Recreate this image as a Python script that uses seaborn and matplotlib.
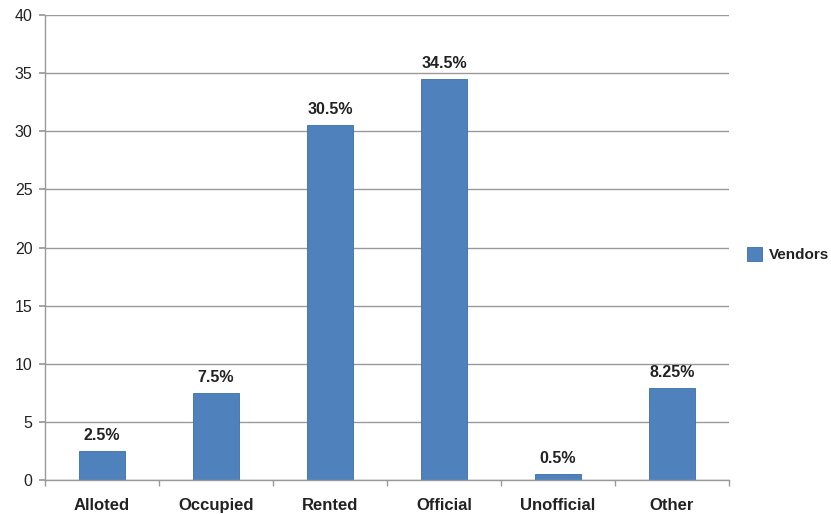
import matplotlib.pyplot as plt
import pandas as pd
import seaborn as sns

sns.set_theme(style="white")
plt.rcParams['font.family'] = ['Liberation Sans', 'DejaVu Sans']

# Data
categories = ['Alloted', 'Occupied', 'Rented', 'Official', 'Unofficial', 'Other']
vendors = [2.5, 7.5, 30.5, 34.5, 0.5, 7.9]
bar_labels = ['2.5%', '7.5%', '30.5%', '34.5%', '0.5%', '8.25%']

df = pd.DataFrame({'category': categories, 'value': vendors, 'series': 'Vendors'})

fig = plt.figure(figsize=(8.31, 5.14), dpi=100)
ax = fig.add_axes([45 / 831, 34 / 514, 684 / 831, 465 / 514])

sns.barplot(data=df, x='category', y='value', hue='series', palette=['#4F81BD'],
            width=0.4, saturation=1, ax=ax)

for patch in ax.patches:
    patch.set_edgecolor('#3A6EA8')
    patch.set_linewidth(0.6)

for i, (v, lab) in enumerate(zip(vendors, bar_labels)):
    ax.text(i, v + 0.7, lab, ha='center', va='bottom', fontsize=11.5,
            fontweight='bold', color='#222222')

ax.set_ylim(0, 40)
ax.set_yticks(range(0, 41, 5))
ax.set_xlim(-0.5, 5.5)
ax.yaxis.grid(True, color='#999999', linewidth=1)
ax.set_axisbelow(True)
ax.set_xlabel('')
ax.set_ylabel('')

# ticks between the categories, like the original
ax.set_xticks(range(6))
ax.set_xticklabels(categories, fontsize=12, fontweight='bold', color='#222222')
ax.tick_params(axis='x', length=0, pad=13)
ax.set_xticks([i - 0.5 for i in range(7)], minor=True)
ax.tick_params(axis='x', which='minor', length=4, color='#999999', direction='out', bottom=True)
ax.tick_params(axis='y', length=4, color='#999999', direction='out', left=True,
               labelsize=11.5, labelcolor='#222222', pad=5)

for side in ['top', 'right']:
    ax.spines[side].set_visible(False)
for side in ['left', 'bottom']:
    ax.spines[side].set_color('#999999')
    ax.spines[side].set_linewidth(1)

leg = ax.legend(loc='center left', bbox_to_anchor=(1.026, 0.485), frameon=False,
                handlelength=1.0, handleheight=1.1, handletextpad=0.45,
                borderpad=0, borderaxespad=0,
                prop={'weight': 'bold', 'size': 11})
for t in leg.get_texts():
    t.set_color('#222222')

fig.savefig('out.png', dpi=100)
